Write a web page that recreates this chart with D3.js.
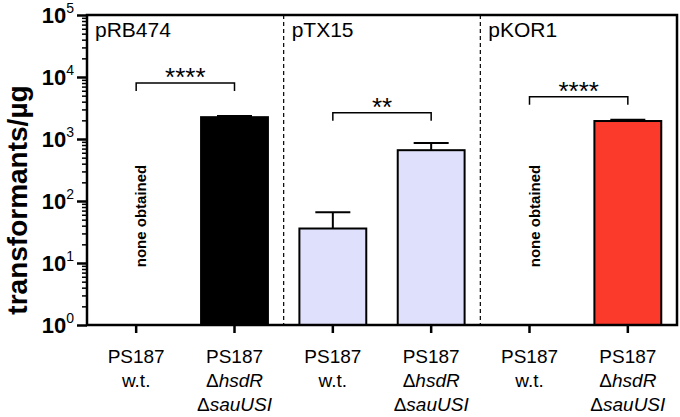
<!DOCTYPE html>
<html><head><meta charset="utf-8">
<script src="https://cdn.jsdelivr.net/npm/d3@7/dist/d3.min.js"></script>
<style>body{margin:0;background:#fff}svg{display:block;font-family:"Liberation Sans",Arial,sans-serif}</style>
</head><body><svg id="c" width="680" height="417"></svg>
<script>
const categories = ["pRB474_wt","pRB474_mut","pTX15_wt","pTX15_mut","pKOR1_wt","pKOR1_mut"];
const groupLabels = ["pRB474","pTX15","pKOR1"];
const means = [null, 2250, 36, 660, null, 1950];
const errUpper = [null, 2350, 66, 860, null, 2050];
const fills = ["#ffffff","#000000","#dfe0fb","#dfe0fb","#ffffff","#fb3a2c"];
const tickLines = [["PS187","w.t."],["PS187","ΔhsdR","ΔsauUSI"],["PS187","w.t."],["PS187","ΔhsdR","ΔsauUSI"],["PS187","w.t."],["PS187","ΔhsdR","ΔsauUSI"]];
const sigPairs = [[0,1],[2,3],[4,5]];
const sigLabels = ["****","**","****"];
const sigLevels = [8000, 2650, 4800];
const yTicks = [1,10,100,1000,10000,100000];
const yExps = ["0","1","2","3","4","5"];

const svg = d3.select("#c");
const L=87,R=677,T=15,B=325;
const x = d3.scaleBand().domain(categories).range([L,R]).paddingInner(0.32).paddingOuter(0.16);
const y = d3.scaleLog().domain([1,1e5]).range([B,T]);

categories.forEach((c,i)=>{
  if(means[i]==null) return;
  const cx = x(c)+x.bandwidth()/2;
  svg.append("line").attr("x1",cx).attr("x2",cx).attr("y1",y(means[i])).attr("y2",y(errUpper[i])).attr("stroke","#000").attr("stroke-width",2);
  svg.append("line").attr("x1",cx-17.5).attr("x2",cx+17.5).attr("y1",y(errUpper[i])).attr("y2",y(errUpper[i])).attr("stroke","#000").attr("stroke-width",2);
  svg.append("rect").attr("x",x(c)).attr("y",y(means[i])).attr("width",x.bandwidth()).attr("height",B-y(means[i]))
    .attr("fill",fills[i]).attr("stroke","#000").attr("stroke-width",2);
});
categories.forEach((c,i)=>{
  if(means[i]!=null) return;
  const cx = x(c)+x.bandwidth()/2;
  svg.append("text").attr("transform",`translate(${cx+10},216) rotate(-90)`).attr("text-anchor","middle")
    .attr("font-size",15).attr("font-weight","bold").text("none obtained");
});
[2,4].forEach(k=>{
  const sx = x(categories[k]) - x.step()*x.paddingInner()/2;
  svg.append("line").attr("x1",sx).attr("x2",sx).attr("y1",T).attr("y2",B).attr("stroke","#000").attr("stroke-width",1.2).attr("stroke-dasharray","4,3");
});
groupLabels.forEach((g,k)=>{
  const gx = k===0 ? L+8 : x(categories[2*k]) - x.step()*x.paddingInner()/2 + 8;
  svg.append("text").attr("x",gx).attr("y",37).attr("font-size",21).text(g);
});
sigPairs.forEach((p,k)=>{
  const a = x(categories[p[0]])+x.bandwidth()/2, b = x(categories[p[1]])+x.bandwidth()/2, yy = y(sigLevels[k]);
  svg.append("path").attr("d",`M${a},${yy+8}V${yy}H${b}V${yy+8}`).attr("fill","none").attr("stroke","#000").attr("stroke-width",1.5);
  svg.append("text").attr("x",(a+b)/2).attr("y",yy+3).attr("text-anchor","middle").attr("font-size",26).text(sigLabels[k]);
});
const gy = svg.append("g").attr("transform",`translate(${L},0)`).call(d3.axisLeft(y).tickValues(yTicks).tickSize(10).tickFormat(""));
gy.select(".domain").remove();
gy.selectAll(".tick line").attr("stroke-width",2.5);
const minor = [];
for(let e=0;e<5;e++) for(let m=2;m<10;m++) minor.push(m*Math.pow(10,e));
const gym = svg.append("g").attr("transform",`translate(${L},0)`).call(d3.axisLeft(y).tickValues(minor).tickSize(5).tickFormat(""));
gym.select(".domain").remove();
gym.selectAll(".tick line").attr("stroke-width",1.5);
yTicks.forEach((v,i)=>{
  const t = svg.append("text").attr("x",74).attr("y",y(v)+8).attr("text-anchor","end");
  t.append("tspan").attr("font-size",22).attr("font-weight","bold").text("10");
  t.append("tspan").attr("font-size",14).attr("dy",-10).text(yExps[i]);
});
svg.append("rect").attr("x",L).attr("y",T).attr("width",R-L).attr("height",B-T).attr("fill","none").attr("stroke","#000").attr("stroke-width",2.5);
const gx = svg.append("g").attr("transform",`translate(0,${B})`).call(d3.axisBottom(x).tickSize(8).tickFormat(""));
gx.select(".domain").remove();
gx.selectAll(".tick line").attr("stroke-width",2.5);
categories.forEach((c,i)=>{
  const cx = x(c)+x.bandwidth()/2;
  tickLines[i].forEach((ln,j)=>{
    const t = svg.append("text").attr("x",cx).attr("y",363+24*j).attr("text-anchor","middle").attr("font-size",19);
    if(ln.startsWith("Δ")){ t.append("tspan").text("Δ"); t.append("tspan").attr("font-style","italic").text(ln.slice(1)); }
    else t.text(ln);
  });
});
svg.append("text").attr("transform","translate(27,200) rotate(-90)").attr("text-anchor","middle").attr("font-size",28).attr("font-weight","bold").text("transformants/µg");
</script></body></html>
